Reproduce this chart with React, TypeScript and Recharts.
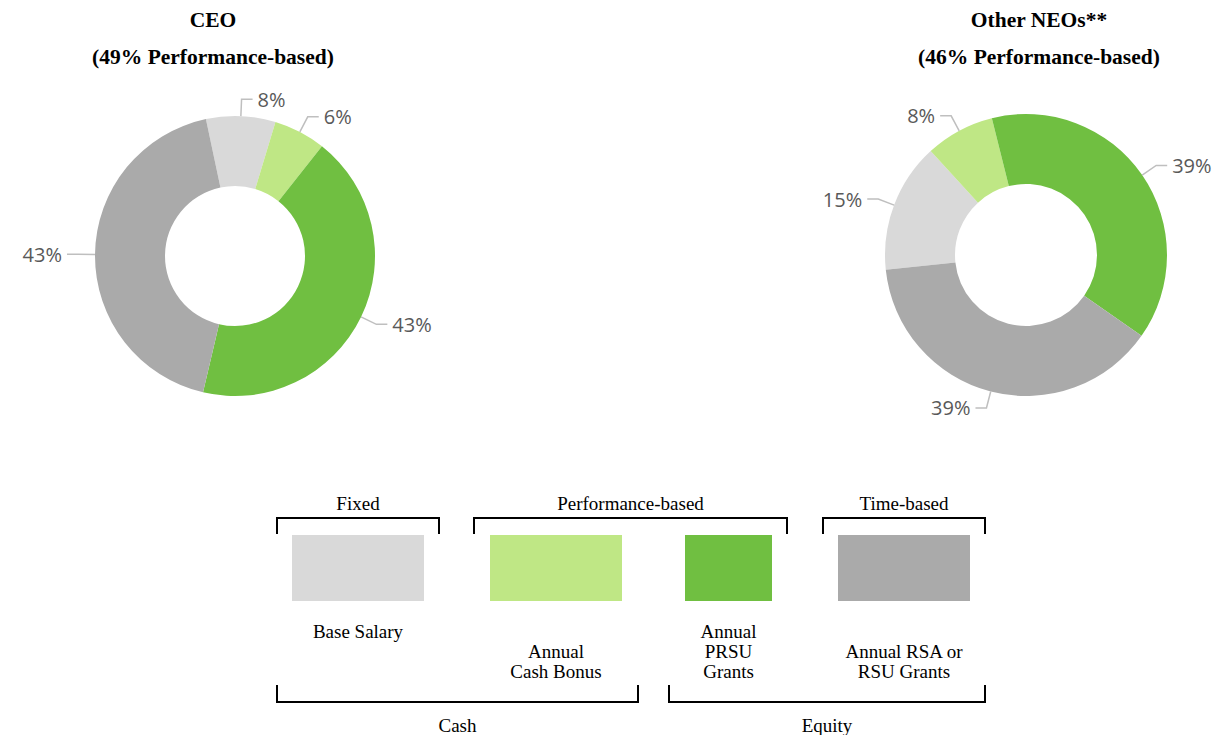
import React from "react";
import { PieChart, Pie, Cell } from "recharts";

// Compensation mix, in the same category order for both donuts.
const CATEGORIES = ["Base Salary", "Annual Cash Bonus", "Annual PRSU Grants", "Annual RSA or RSU Grants"];
const CEO_MIX = [8, 6, 43, 43];
const NEO_MIX = [15, 8, 39, 39];
const COLORS = ["#d9d9d9", "#bfe785", "#70bf41", "#aaaaaa"];

const LEGEND_LINES = [["Base Salary"], ["Annual", "Cash Bonus"], ["Annual", "PRSU", "Grants"], ["Annual RSA or", "RSU Grants"]];
const TOP_GROUPS = ["Fixed", "Performance-based", "Time-based"];
const BOTTOM_GROUPS = ["Cash", "Equity"];

// layout of the legend (px)
const BOX_X = [[292, 424], [490, 622], [685, 772], [838, 970]];
const LINE_START_ROW = [0, 1, 0, 1];
const TOP_BRACKETS = [[277, 439], [474, 787], [823, 985]];
const BOTTOM_BRACKETS = [[277, 638], [669, 985]];

const toTable = (values: number[]) => CATEGORIES.map((name, i) => ({ name, value: values[i] }));

const RAD = Math.PI / 180;
const SERIF = "'Liberation Serif', 'Times New Roman', serif";
const SANS = "'Open Sans', 'Noto Sans', sans-serif";

function renderLabel(props: any) {
  const { cx, cy, midAngle, outerRadius, value } = props;
  const cos = Math.cos(-midAngle * RAD);
  const sin = Math.sin(-midAngle * RAD);
  const sx = cx + outerRadius * cos;
  const sy = cy + outerRadius * sin;
  const ex = cx + (outerRadius + 17) * cos;
  const ey = cy + (outerRadius + 17) * sin;
  const dir = cos >= 0 ? 1 : -1;
  const hx = ex + dir * 11;
  return (
    <g>
      <polyline points={`${sx},${sy} ${ex},${ey} ${hx},${ey}`} fill="none" stroke="#bfbfbf" strokeWidth={1.5} />
      <text
        x={hx + dir * 5}
        y={ey}
        textAnchor={dir > 0 ? "start" : "end"}
        dominantBaseline="central"
        fill="#595959"
        fontFamily={SANS}
        fontSize={20}
      >
        {`${value}%`}
      </text>
    </g>
  );
}

function Title({ lines, x }: { lines: string[]; x: number }) {
  return (
    <>
      {lines.map((t, i) => (
        <div
          key={t}
          style={{
            position: "absolute",
            left: x - 200,
            width: 400,
            top: 20 + i * 37 - 13,
            height: 26,
            lineHeight: "26px",
            textAlign: "center",
            fontFamily: SERIF,
            fontWeight: "bold",
            fontSize: 21.5,
          }}
        >
          {t}
        </div>
      ))}
    </>
  );
}

export default function App() {
  return (
    <div style={{ position: "relative", width: 1214, height: 735, background: "#fff", overflow: "hidden" }}>
      <style>{`body{margin:0}`}</style>
      <PieChart
        width={1214}
        height={440}
        margin={{ top: 0, right: 0, bottom: 0, left: 0 }}
        style={{ position: "absolute", left: 0, top: 0 }}
      >
        <Pie
          data={toTable(CEO_MIX)}
          dataKey="value"
          nameKey="name"
          cx={235}
          cy={256}
          innerRadius={70}
          outerRadius={140}
          startAngle={102}
          endAngle={-258}
          stroke="none"
          label={renderLabel}
          labelLine={false}
          isAnimationActive={false}
        >
          {CATEGORIES.map((c, i) => (
            <Cell key={c} fill={COLORS[i]} />
          ))}
        </Pie>
        <Pie
          data={toTable(NEO_MIX)}
          dataKey="value"
          nameKey="name"
          cx={1026}
          cy={255}
          innerRadius={71}
          outerRadius={141}
          startAngle={-174}
          endAngle={-534}
          stroke="none"
          label={renderLabel}
          labelLine={false}
          isAnimationActive={false}
        >
          {CATEGORIES.map((c, i) => (
            <Cell key={c} fill={COLORS[i]} />
          ))}
        </Pie>
      </PieChart>

      <Title lines={["CEO", "(49% Performance-based)"]} x={213} />
      <Title lines={["Other NEOs**", "(46% Performance-based)"]} x={1039} />

      <svg width={1214} height={735} style={{ position: "absolute", left: 0, top: 0 }}>
        <g fontFamily={SERIF} fontSize={19} fill="#000" textAnchor="middle">
          {TOP_GROUPS.map((g, i) => {
            const [x0, x1] = TOP_BRACKETS[i];
            return (
              <g key={g}>
                <polyline points={`${x0},534 ${x0},518 ${x1},518 ${x1},534`} fill="none" stroke="#000" strokeWidth={2} />
                <text x={(x0 + x1) / 2} y={503} dominantBaseline="central">
                  {g}
                </text>
              </g>
            );
          })}
          {BOTTOM_GROUPS.map((g, i) => {
            const [x0, x1] = BOTTOM_BRACKETS[i];
            return (
              <g key={g}>
                <polyline points={`${x0},685 ${x0},702 ${x1},702 ${x1},685`} fill="none" stroke="#000" strokeWidth={2} />
                <text x={(x0 + x1) / 2} y={725} dominantBaseline="central">
                  {g}
                </text>
              </g>
            );
          })}
          {CATEGORIES.map((c, i) => {
            const [x0, x1] = BOX_X[i];
            return (
              <g key={c}>
                <rect x={x0} y={535} width={x1 - x0} height={66} fill={COLORS[i]} />
                {LEGEND_LINES[i].map((t, j) => (
                  <text key={t} x={(x0 + x1) / 2} y={631 + (LINE_START_ROW[i] + j) * 20} dominantBaseline="central">
                    {t}
                  </text>
                ))}
              </g>
            );
          })}
        </g>
      </svg>
    </div>
  );
}
